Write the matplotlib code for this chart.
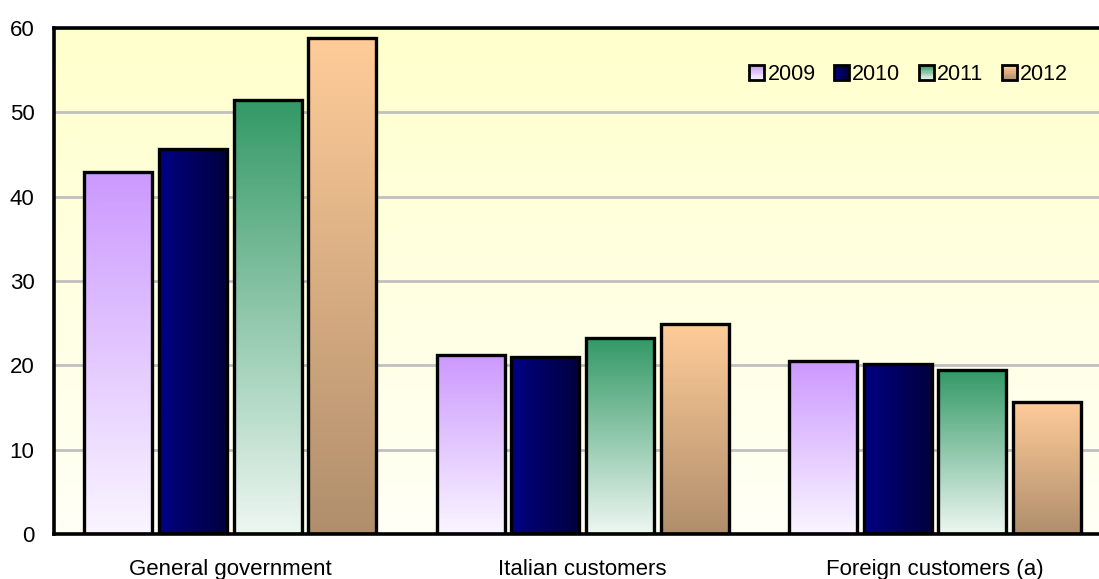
import numpy as np
import matplotlib.pyplot as plt
from matplotlib.colors import to_rgb
from matplotlib.legend_handler import HandlerBase
from matplotlib.patches import Rectangle

plt.rcParams['font.family'] = ['Liberation Sans', 'DejaVu Sans']

# data
categories = ['General government', 'Italian customers', 'Foreign customers (a)']
years = ['2009', '2010', '2011', '2012']
values = {
    '2009': [42.9, 21.2, 20.5],
    '2010': [45.6, 21.0, 20.2],
    '2011': [51.4, 23.2, 19.4],
    '2012': [58.8, 24.9, 15.7],
}

# gradient stops (top/left colour, bottom/right colour, direction)
fills = {
    '2009': ('#CC99FF', '#FAF6FF', 'v'),
    '2010': ('#000084', '#00003C', 'h'),
    '2011': ('#339966', '#EEF7F2', 'v'),
    '2012': ('#FFCC99', '#B08E6C', 'v'),
}


def grad_array(c1, c2, direction, n=256):
    a, b = np.array(to_rgb(c1)), np.array(to_rgb(c2))
    t = np.linspace(0, 1, n)
    col = a[None, :] * (1 - t[:, None]) + b[None, :] * t[:, None]
    if direction == 'v':
        return col[:, None, :]
    return col[None, :, :]


class GradHandler(HandlerBase):
    def __init__(self, c1, c2, direction):
        super().__init__()
        self.c1, self.c2, self.d = c1, c2, direction

    def create_artists(self, legend, orig_handle, xdescent, ydescent,
                       width, height, fontsize, trans):
        arts = []
        n = 12
        a, b = np.array(to_rgb(self.c1)), np.array(to_rgb(self.c2))
        for i in range(n):
            t = i / (n - 1)
            c = a * (1 - t) + b * t
            if self.d == 'v':
                r = Rectangle((-xdescent, -ydescent + height * (1 - (i + 1) / n)),
                              width, height / n, facecolor=c, edgecolor='none',
                              transform=trans)
            else:
                r = Rectangle((-xdescent + width * i / n, -ydescent),
                              width / n, height, facecolor=c, edgecolor='none',
                              transform=trans)
            arts.append(r)
        arts.append(Rectangle((-xdescent, -ydescent), width, height,
                              facecolor='none', edgecolor='black', lw=2,
                              transform=trans))
        return arts


fig = plt.figure(figsize=(10.99, 5.79), dpi=100)
ax = fig.add_axes([0.0491, 0.0777, 0.962, 0.874])

x = np.arange(len(categories))
step = 0.212
width = 0.193

# plot area background: pale yellow fading to near white
bg = grad_array('#FFFFCC', '#FFFFF6', 'v')
ax.imshow(bg, extent=[0, 1, 0, 1], transform=ax.transAxes, aspect='auto',
          zorder=-2, interpolation='bilinear')

handles = []
for i, yr in enumerate(years):
    bars = ax.bar(x + (i - 1.5) * step, values[yr], width,
                  facecolor='none', edgecolor='black', linewidth=2.4,
                  zorder=3, label=yr)
    c1, c2, d = fills[yr]
    img = grad_array(c1, c2, d)
    for p in bars.patches:
        x0, y0 = p.get_x(), p.get_y()
        ax.imshow(img, extent=[x0, x0 + p.get_width(), y0, y0 + p.get_height()],
                  aspect='auto', zorder=2, interpolation='bilinear')
    handles.append(bars)

ax.set_xlim(-0.5, 2.5)
ax.set_ylim(0, 60)
ax.set_yticks(range(0, 61, 10))
ax.set_xticks(x)
ax.set_xticklabels(categories, fontsize=16)
ax.tick_params(axis='y', length=0, labelsize=16, pad=14)
ax.tick_params(axis='x', length=0, pad=18)

ax.yaxis.grid(True, color='#C0C0C0', linewidth=2)
ax.set_axisbelow(True)
for s in ['top', 'left', 'bottom', 'right']:
    ax.spines[s].set_linewidth(2.6)
    ax.spines[s].set_color('black')

hmap = {h: GradHandler(*fills[yr]) for h, yr in zip(handles, years)}
fig.legend(handles, years, loc='center left', bbox_to_anchor=(0.672, 0.871),
           ncol=4, frameon=False, fontsize=15.5, handlelength=0.7,
           handleheight=0.7, handletextpad=0.15, columnspacing=0.85,
           borderpad=0, handler_map=hmap)

fig.savefig('out.png', dpi=100)
